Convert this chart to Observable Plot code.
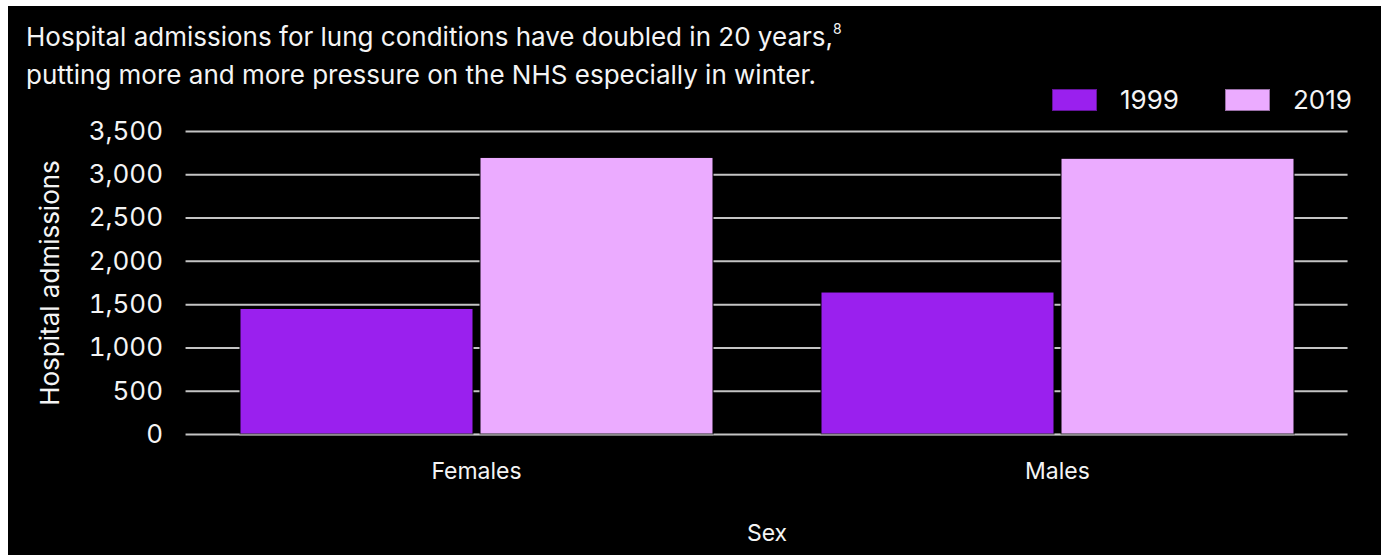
<!DOCTYPE html>
<html>
<head>
<meta charset="utf-8">
<script src="https://cdn.jsdelivr.net/npm/d3@7"></script>
<script src="https://cdn.jsdelivr.net/npm/@observablehq/plot@0.6"></script>
<style>
  html, body { margin: 0; padding: 0; background: #ffffff; }
  body { width: 1381px; height: 555px; overflow: hidden; position: relative; font-family: Inter, "Liberation Sans", Arial, sans-serif; }
  #wrap { position: absolute; left: 8px; top: 6px; width: 1373px; height: 549px; background: #000; overflow: hidden; }
  #title { position: absolute; left: 18px; top: 14px; color: #f4f4f4; font-size: 26px; line-height: 34px; white-space: nowrap; }
  #title sup { font-size: 14px; vertical-align: 0; position: relative; top: -12px; }
  #legend { position: absolute; top: 78px; left: 1044px; display: flex; align-items: center; color: #f4f4f4; font-size: 26px; }
  .item { display: flex; align-items: center; }
  .sw { width: 45px; height: 22px; box-sizing: border-box; border: 1px solid rgba(0,0,0,0.35); }
  .lab { margin-left: 23px; margin-right: 46px; }
  #chart { position: absolute; left: 0; top: 104px; }
</style>
</head>
<body>
<div id="wrap">
  <div id="title"></div>
  <div id="legend"></div>
  <div id="chart"></div>
</div>
<script>
// Data
const sexes = ["Females", "Males"];
const years = ["1999", "2019"];
const values1999 = [1450, 1640];
const values2019 = [3195, 3185];
const yTicks = [0, 500, 1000, 1500, 2000, 2500, 3000, 3500];
const colors = ["#9a20ee", "#ebabff"];
const titleLine1 = "Hospital admissions for lung conditions have doubled in 20 years,";
const titleNote = "8";
const titleLine2 = "putting more and more pressure on the NHS especially in winter.";
const yLabel = "Hospital admissions";
const xLabel = "Sex";

const data = [];
sexes.forEach((s, i) => {
  data.push({sex: s, year: years[0], value: values1999[i]});
  data.push({sex: s, year: years[1], value: values2019[i]});
});

// Title
document.getElementById("title").innerHTML =
  `${titleLine1}<sup>${titleNote}</sup><br>${titleLine2}`;

// Legend
const leg = document.getElementById("legend");
years.forEach((y, i) => {
  const it = document.createElement("div");
  it.className = "item";
  const sw = document.createElement("div");
  sw.className = "sw";
  sw.style.background = colors[i];
  const lb = document.createElement("span");
  lb.className = "lab";
  lb.textContent = y;
  if (i === years.length - 1) lb.style.marginRight = "0";
  it.appendChild(sw); it.appendChild(lb);
  leg.appendChild(it);
});

const W = 1373, H = 445;
const mL = 178, mR = 33, mT = 21, mB = 121;
const plotW = W - mL - mR;
const fxInner = 0.184, fxOuter = 0.092;
// offset of the first facet from the frame's left edge (band scale geometry)
const fxStep = plotW / (sexes.length - fxInner + 2 * fxOuter);
const facetOff = fxOuter * fxStep;

const chart = Plot.plot({
  width: W,
  height: H,
  marginLeft: mL,
  marginRight: mR,
  marginTop: mT,
  marginBottom: mB,
  style: { background: "transparent", color: "#f4f4f4", fontFamily: "Inter, Liberation Sans, Arial, sans-serif", fontSize: "26px", overflow: "visible" },
  fx: { domain: sexes, paddingInner: fxInner, paddingOuter: fxOuter },
  x: { domain: years, paddingInner: 0.03, paddingOuter: 0, axis: null },
  y: { domain: [0, 3500] },
  color: { domain: years, range: colors },
  marks: [
    Plot.axisY(yTicks, { tickSize: -plotW, dx: -facetOff, tickFormat: () => "", label: null, stroke: "#c4c4c4", strokeWidth: 2 }),
    Plot.axisY(yTicks, { tickSize: 0, tickPadding: 23 + facetOff, tickFormat: d3.format(","), label: yLabel, labelArrow: "none", labelAnchor: "center", labelOffset: 146 + facetOff, fontSize: 26 }),
    Plot.barY(data, { fx: "sex", x: "year", y: "value", fill: "year", stroke: "#000", strokeWidth: 1 }),
    Plot.ruleY([0], { stroke: "#e0e0e0", strokeWidth: 2, strokeOpacity: 0.35 }),
    Plot.axisFx({ anchor: "bottom", tickSize: 0, tickPadding: 28, label: xLabel, labelArrow: "none", labelAnchor: "center", labelOffset: 106, fontSize: 23 })
  ]
});
document.getElementById("chart").appendChild(chart);
</script>
</body>
</html>
